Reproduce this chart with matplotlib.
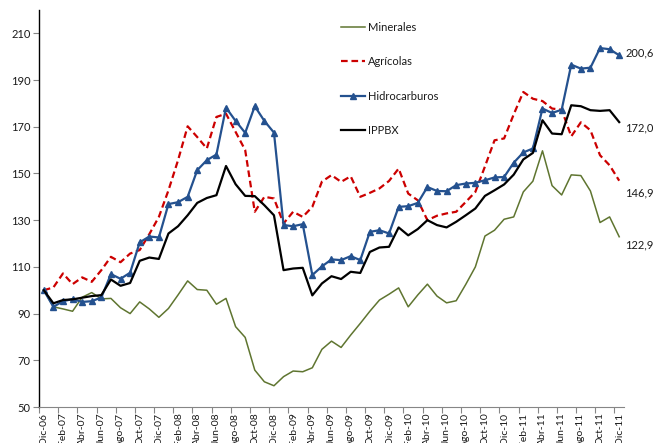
import matplotlib
matplotlib.use("Agg")
import matplotlib.pyplot as plt
import numpy as np

plt.rcParams['font.family'] = ['Lato', 'DejaVu Sans']

meses = ["Ene", "Feb", "Mar", "Abr", "May", "Jun", "Jul", "Ago", "Sep", "Oct", "Nov", "Dic"]
categorias = ["Dic-06"] + [f"{m}-{a:02d}" for a in range(7, 12) for m in meses]

minerales = [100, 92.9, 92, 91, 97, 99, 96.3, 96.5, 92.5, 90, 95, 92, 88.4, 92.2, 98, 104,
             100.3, 100, 94, 96.5, 84.4, 79.8, 65.8, 60.8, 59.1, 63, 65.4, 65.1, 66.8, 74.7,
             78.2, 75.5, 80.8, 85.8, 91, 95.8, 98.3, 101, 92.9, 98, 102.6, 97.5, 94.6, 95.5,
             102.5, 110, 123.2, 125.7, 130.4, 131.4, 142.1, 146.7, 159.7, 144.8, 140.8, 149.4,
             149.1, 142.5, 129, 131.4, 122.9]
agricolas = [100, 101.2, 107.2, 102.6, 105.5, 103.6, 108.6, 114.3, 112, 115.7, 117.2, 124,
             131.4, 142.8, 155.7, 170.2, 165.6, 160.7, 174.2, 175.6, 167.8, 160, 133.6, 140,
             139.3, 128.6, 133.6, 131.4, 135.7, 146.5, 149.3, 146.4, 148.8, 140, 141.7, 143.6,
             146.8, 152.1, 141.4, 138.5, 130, 131.9, 132.9, 133.6, 137.8, 142.1, 153, 164.2,
             165, 175.3, 184.9, 182, 181, 177.8, 177.3, 165.9, 171.9, 168.5, 157.8, 153.5, 146.9]
hidrocarburos = [100, 92.9, 95.3, 96.2, 95, 95.3, 96.9, 106.9, 104.9, 107.5, 120.5, 123,
                 122.6, 136.9, 137.7, 140, 151.4, 155.7, 158.1, 178.2, 172.5, 167.4, 178.8,
                 172.5, 167.5, 127.9, 127.4, 128.3, 106.5, 110.2, 113.2, 112.9, 114.6, 112.9,
                 125, 125.7, 124.3, 135.7, 136, 137.4, 144.2, 142.5, 142.4, 145, 145.7, 146,
                 147.1, 148.3, 148.5, 154.6, 159, 160.7, 177.8, 175.9, 177.3, 196.6, 194.9,
                 195.3, 203.7, 203.2, 200.6]
ippbx = [100, 94.4, 95.8, 96.1, 96.8, 97.5, 97.9, 104.6, 101.9, 103.1, 112.6, 114, 113.4,
         124.3, 127.4, 132.1, 137.4, 139.5, 140.7, 153.2, 145.4, 140.4, 140.3, 136.4, 132.1,
         108.6, 109.3, 109.6, 97.8, 102.9, 106, 104.8, 107.9, 107.4, 116.4, 118.3, 118.6,
         126.9, 123.5, 126.2, 130, 127.9, 126.9, 129.3, 132.1, 135, 140.4, 142.8, 145.3,
         149.5, 156, 158.8, 172.8, 167.1, 166.8, 179.2, 178.8, 177.1, 176.8, 177.1, 172.0]

fig = plt.figure(figsize=(6.53, 4.43), dpi=100)
ax = fig.add_axes([39/653, 1-407/443, (624-39)/653, (407-10)/443])

x = np.arange(len(categorias))
l1, = ax.plot(x, minerales, color="#5F7530", lw=1.1, label="Minerales")
l2, = ax.plot(x, agricolas, color="#CC0000", lw=1.6, linestyle=(0, (3, 1.7)), label="Agrícolas")
l3, = ax.plot(x, hidrocarburos, color="#24518F", lw=1.6, marker="^", markersize=4,
              label="Hidrocarburos")
l4, = ax.plot(x, ippbx, color="black", lw=1.6, label="IPPBX")

ax.set_xlim(-0.5, len(categorias) - 0.5)
ax.set_ylim(50, 220)
ax.set_yticks(np.arange(50, 211, 20))
ax.tick_params(axis="y", length=4, width=0.8, color="#868686", labelsize=8, pad=2,
               labelcolor="#1a1a1a")

ax.set_xticks(np.arange(-0.5, len(categorias) - 0.5, 2))
ax.set_xticks(x[::2], minor=True)
ax.set_xticklabels([])
ax.set_xticklabels([categorias[i] for i in x[::2]], minor=True, rotation=90, fontsize=7.5,
                   color="#1a1a1a")
ax.tick_params(axis="x", which="major", length=4, width=0.8, color="#868686")
ax.tick_params(axis="x", which="minor", length=0, pad=4)

for s in ["top", "right"]:
    ax.spines[s].set_visible(False)
ax.spines["left"].set_color("black")
ax.spines["left"].set_linewidth(1.0)
ax.spines["bottom"].set_color("#868686")
ax.spines["bottom"].set_linewidth(0.8)

# end labels
series = [hidrocarburos, ippbx, agricolas, minerales]
offsets = [2, -6, -12, -8]
for s, dy in zip(series, offsets):
    ax.annotate(f"{s[-1]:.1f}".replace(".", ","), xy=(x[-1], s[-1]),
                xytext=(6, dy), textcoords="offset pixels", fontsize=8,
                va="center", ha="left", color="#1a1a1a", annotation_clip=False)

leg = fig.legend(handles=[l1, l2, l3, l4], loc="upper left",
                 bbox_to_anchor=(341/653, 1-22/443), bbox_transform=fig.transFigure,
                 frameon=False, fontsize=8, labelspacing=2.1, handlelength=2.2,
                 handletextpad=0.2, borderpad=0, borderaxespad=0)
for t in leg.get_texts():
    t.set_color("#1a1a1a")

fig.savefig("out.png", dpi=100)
